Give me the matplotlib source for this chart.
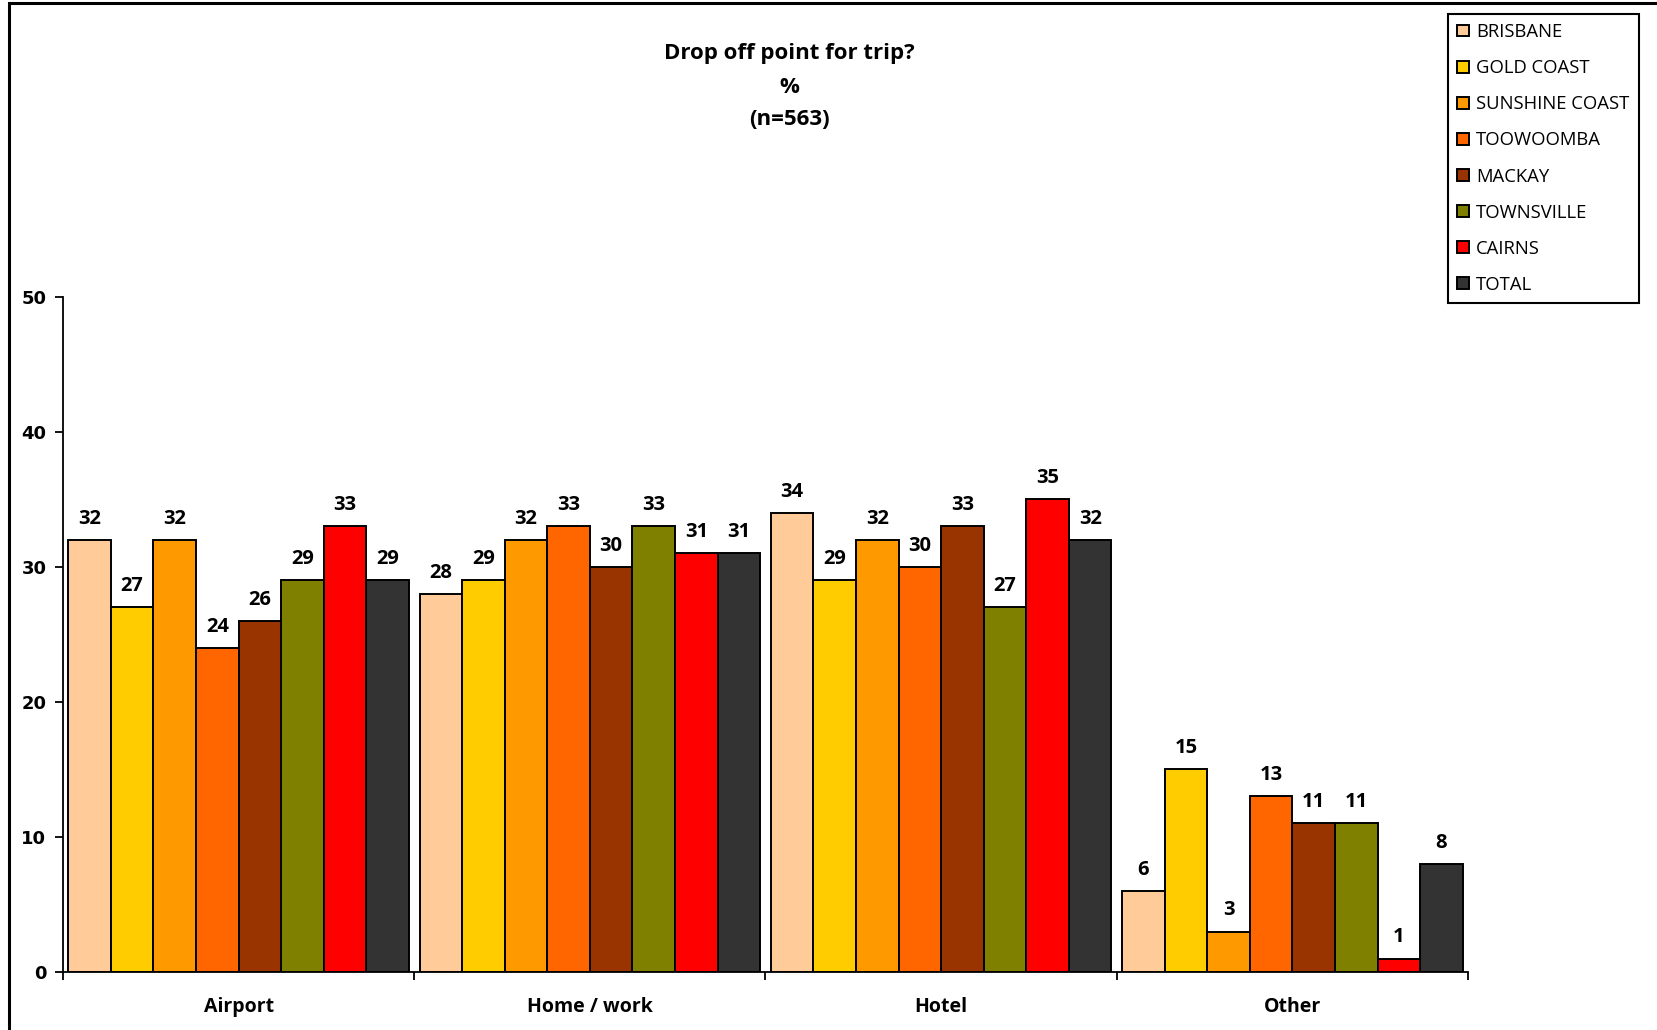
import numpy as np
import matplotlib.pyplot as plt
from matplotlib.patches import Rectangle

categories = ['Airport', 'Home / work', 'Hotel', 'Other']
regions = ['BRISBANE', 'GOLD COAST', 'SUNSHINE COAST', 'TOOWOOMBA',
           'MACKAY', 'TOWNSVILLE', 'CAIRNS', 'TOTAL']
colors = ['#FFCC99', '#FFCC00', '#FF9900', '#FF6600',
          '#993300', '#808000', '#FF0000', '#333333']

# percent per region, one list per drop off point
airport = [32, 27, 32, 24, 26, 29, 33, 29]
home_work = [28, 29, 32, 33, 30, 33, 31, 31]
hotel = [34, 29, 32, 30, 33, 27, 35, 32]
other = [6, 15, 3, 13, 11, 11, 1, 8]

values = np.array([airport, home_work, hotel, other])
txt_font = 'Open Sans'

fig = plt.figure(figsize=(16.58, 10.30), dpi=100)
ax = fig.add_axes([0.038, 0.0563, 0.8474, 0.6554])

n = len(regions)
bw = 0.97 / n
x = np.arange(len(categories))
for i in range(n):
    pos = x - 0.485 + bw * (i + 0.5)
    bars = ax.bar(pos, values[:, i], width=bw, color=colors[i],
                  edgecolor='black', linewidth=1.4, label=regions[i])
    for b, v in zip(bars, values[:, i]):
        ax.annotate(str(v), (b.get_x() + b.get_width() / 2, v),
                    xytext=(0, 8), textcoords='offset points',
                    ha='center', va='bottom', fontsize=14.5,
                    fontweight='bold', family=txt_font)

ax.set_xlim(-0.5, len(categories) - 0.5)
ax.set_ylim(0, 50)
ax.set_yticks(range(0, 51, 10))
ax.set_xticks(np.arange(-0.5, len(categories), 1))
ax.set_xticklabels([])
ax.set_xticks(x, minor=True)
ax.set_xticklabels(categories, minor=True, fontsize=14,
                   fontweight='bold', family=txt_font)
ax.tick_params(axis='x', which='minor', length=0, pad=18)
ax.tick_params(axis='x', which='major', length=6, width=1.3)
ax.tick_params(axis='y', length=6, width=1.3, pad=6)
for lab in ax.get_yticklabels():
    lab.set_fontweight('bold')
    lab.set_fontsize(13)
    lab.set_family('DejaVu Sans')
ax.spines['top'].set_visible(False)
ax.spines['right'].set_visible(False)
for s in ('left', 'bottom'):
    ax.spines[s].set_linewidth(1.3)

for y, s in [(0.948, 'Drop off point for trip?'), (0.915, '%'), (0.884, '(n=563)')]:
    fig.text(0.4759, y, s, ha='center', va='center',
             fontsize=16, fontweight='bold', family=txt_font)

leg = fig.legend(loc='upper left', bbox_to_anchor=(0.8735, 0.9865),
                 prop={'family': txt_font, 'size': 13.3},
                 handlelength=0.6, handleheight=0.6, handletextpad=0.4,
                 labelspacing=0.98, borderpad=0.5, borderaxespad=0,
                 fancybox=False, framealpha=1, edgecolor='black')
leg.get_frame().set_linewidth(1.5)

# outer chart border, runs off the right and bottom edges
fig.patches.append(Rectangle((0.0054, -0.05), 1.1, 1.047, transform=fig.transFigure,
                             fill=False, edgecolor='black', linewidth=2.2))

fig.savefig('out.png', dpi=100)
